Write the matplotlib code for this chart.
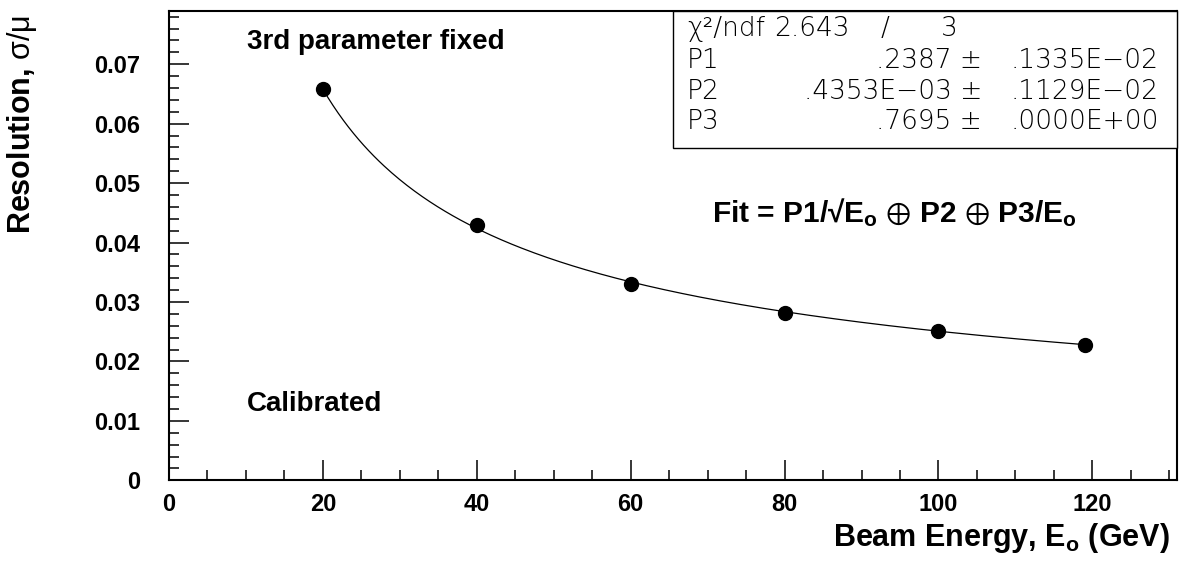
import numpy as np
import matplotlib
matplotlib.use('Agg')
import matplotlib.pyplot as plt
from matplotlib.patches import Rectangle
from matplotlib.ticker import MultipleLocator

# data
energy = [20, 40, 60, 80, 100, 119]
resolution = [0.0658, 0.0430, 0.0330, 0.0282, 0.0251, 0.0227]

# fit parameters from the stats box
chi2_ndf = ('2.643', '3')
par_names = ['P1', 'P2', 'P3']
par_values = [0.2387, 0.4353e-03, 0.7695]
par_text = ['.2387 \u00b1', '.4353E\u221203 \u00b1', '.7695 \u00b1']
err_text = ['.1335E\u221202', '.1129E\u221202', '.0000E+00']

plt.rcParams['font.family'] = ['Liberation Sans', 'DejaVu Sans']
plt.rcParams['mathtext.fontset'] = 'custom'
plt.rcParams['mathtext.rm'] = 'Liberation Sans'
plt.rcParams['mathtext.bf'] = 'Liberation Sans:bold'
plt.rcParams['mathtext.default'] = 'rm'
plt.rcParams['mathtext.fallback'] = 'stixsans'

fig = plt.figure(figsize=(11.82, 5.64), dpi=100)
ax = fig.add_axes([169 / 1182, 1 - 480.3 / 564, 1008 / 1182, 469.6 / 564])

# fit curve
e = np.linspace(energy[0], energy[-1], 300)
p1, p2, p3 = par_values
fit = np.sqrt((p1 / np.sqrt(e)) ** 2 + p2 ** 2 + (p3 / e) ** 2)
ax.plot(e, fit, color='black', lw=0.9, zorder=2)
ax.plot(energy, resolution, 'o', color='black', ms=10, zorder=3)

ax.set_xlim(0, 131)
ax.set_ylim(0, 0.079)
ax.xaxis.set_major_locator(MultipleLocator(20))
ax.xaxis.set_minor_locator(MultipleLocator(5))
ax.yaxis.set_major_locator(MultipleLocator(0.01))
ax.yaxis.set_minor_locator(MultipleLocator(0.002))
ax.yaxis.set_major_formatter(lambda v, p: '0' if v == 0 else '%.2f' % v)
ax.tick_params(which='both', direction='in', top=False, right=False, width=1.1)
ax.tick_params(which='major', length=14.5)
ax.tick_params(which='minor', length=7.2)
ax.tick_params(axis='x', pad=9)
ax.tick_params(axis='y', pad=21)
for lab in ax.get_xticklabels() + ax.get_yticklabels():
    lab.set_fontweight('bold')
    lab.set_fontsize(17)
for s in ax.spines.values():
    s.set_linewidth(1.5)

# axis titles
fig.text(0.0186, 1 - 15 / 564, r'Resolution, $\sigma/\mu$', rotation=90,
         ha='center', va='top', fontsize=22, fontweight='bold')
fig.text(1170 / 1182, 1 - 546 / 564, r'Beam Energy, E$_\mathbf{o}$ (GeV)',
         ha='right', va='baseline', fontsize=22, fontweight='bold')

# annotations
ax.text(0.0774, 0.933, '3rd parameter fixed', transform=ax.transAxes,
        ha='left', va='center', fontsize=20, fontweight='bold')
ax.text(0.0774, 0.163, 'Calibrated', transform=ax.transAxes,
        ha='left', va='center', fontsize=20, fontweight='bold')
ax.text(0.5387, 0.569, 'Fit = P1/\u221aE$_\\mathbf{o}$ $\\oplus$ P2 $\\oplus$ P3/E$_\\mathbf{o}$',
        transform=ax.transAxes, ha='left', va='center', fontsize=21.5, fontweight='bold')

# stats box
ax.add_patch(Rectangle((0.5, 0.7078), 0.5, 0.2922, transform=ax.transAxes,
                       facecolor='white', edgecolor='black', lw=1.0, zorder=4, clip_on=False))
sfont = dict(family=['DejaVu Sans'], fontsize=19, fontweight='light',
             transform=ax.transAxes, va='center', zorder=5)
rows_y = [0.962, 0.895, 0.829, 0.763]
ax.text(0.514, rows_y[0], '\u03c7\u00b2/ndf', ha='left', **sfont)
ax.text(0.6756, rows_y[0], chi2_ndf[0], ha='right', **sfont)
ax.text(0.710, rows_y[0], '/', ha='center', **sfont)
ax.text(0.774, rows_y[0], chi2_ndf[1], ha='center', **sfont)
for i in range(3):
    ax.text(0.514, rows_y[i + 1], par_names[i], ha='left', **sfont)
    ax.text(0.8065, rows_y[i + 1], par_text[i], ha='right', **sfont)
    ax.text(0.982, rows_y[i + 1], err_text[i], ha='right', **sfont)

plt.savefig('out.png', dpi=100)
